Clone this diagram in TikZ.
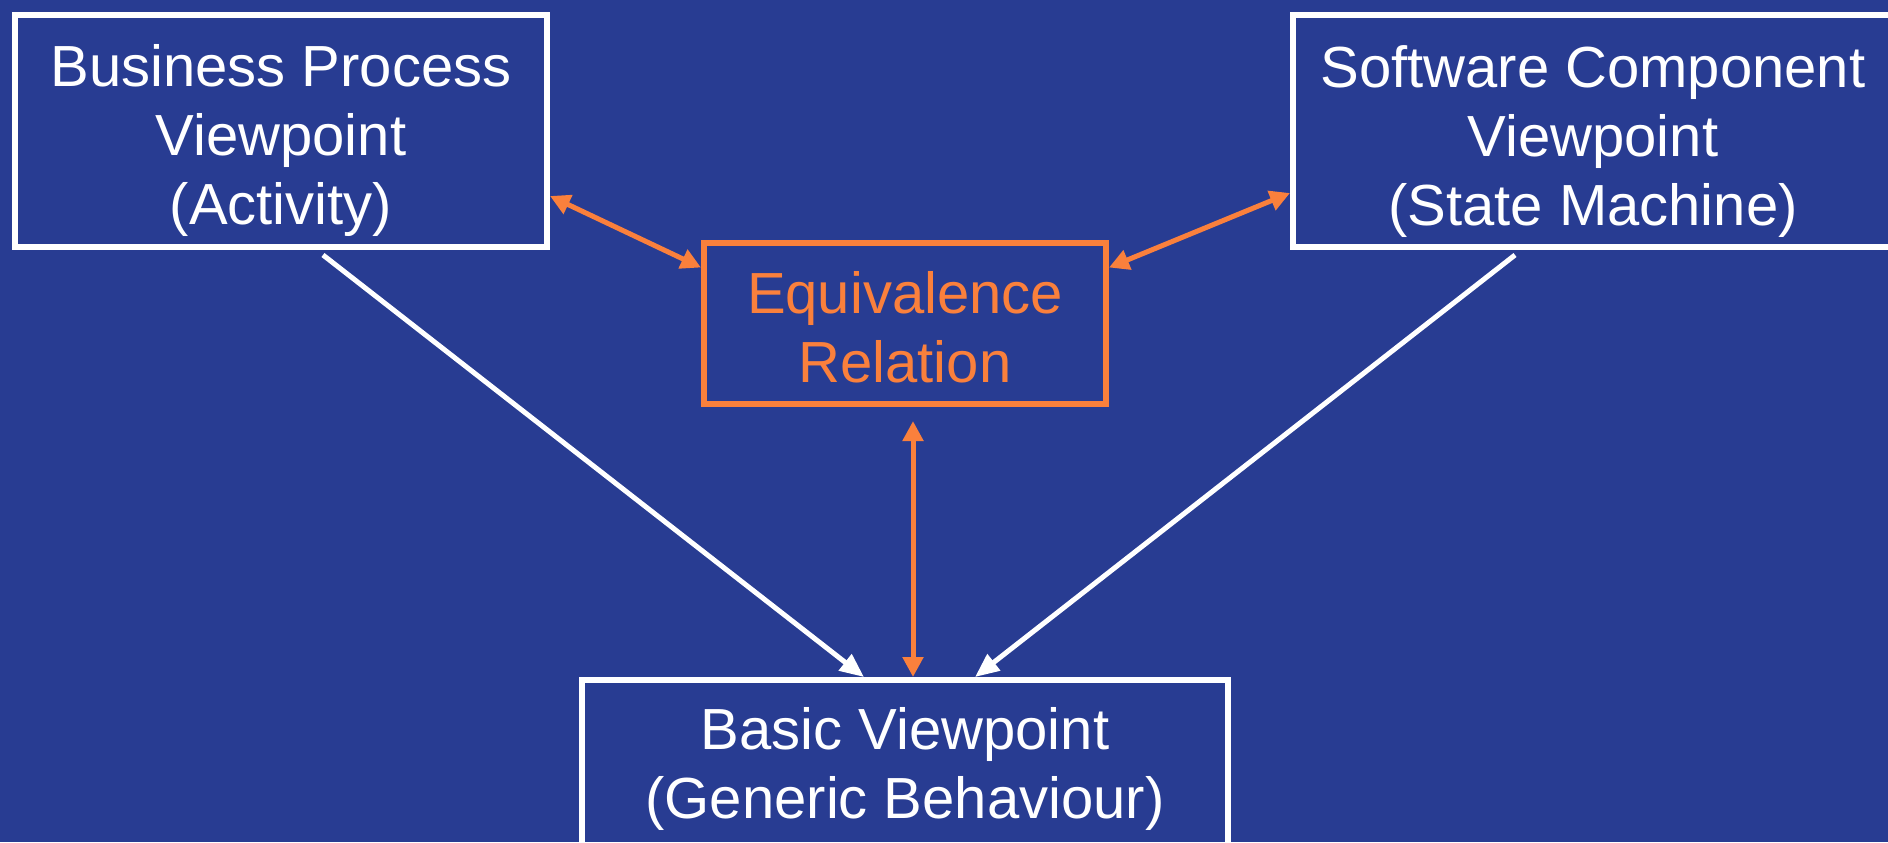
\documentclass[tikz,border=0pt]{standalone}
\usepackage{fontspec}
\setmainfont{Liberation Sans}
\usepackage{tikz}
\usetikzlibrary{positioning, arrows.meta}
\definecolor{slideblue}{RGB}{40,60,146}
\definecolor{relorange}{RGB}{250,128,60}
\newcommand{\toppad}[1]{\rule{0pt}{#1}}
\tikzstyle{viewpoint} = [rectangle, minimum width=266pt, minimum height=116pt, inner sep=0pt, align=center, draw=white, line width=3pt, text=white]
\tikzstyle{relation} = [rectangle, minimum width=201pt, minimum height=80.5pt, inner sep=0pt, align=center, draw=relorange, line width=3pt, text=relorange]
\tikzstyle{arrow} = [line width=2.5pt, white, -{Triangle[length=12pt,width=10pt]}]
\tikzstyle{twoway} = [line width=2.5pt, relorange, {Triangle[length=10pt,width=10pt]}-{Triangle[length=10pt,width=10pt]}]

\begin{document}
\begin{tikzpicture}[x=0.5pt, y=-0.5pt, node distance=220.75pt, font=\fontsize{29}{34.5}\selectfont]
\useasboundingbox (0,0) rectangle (1888,842);
\fill [slideblue] (0,0) rectangle (1888,842);

\node (equiv) [relation] at (905,323.5) {\toppad{24.5pt}Equivalence\\Relation};
\node (business) [viewpoint] at (281,131) {\toppad{31pt}Business Process\\Viewpoint\\(Activity)};
\node (software) [viewpoint, minimum width=300pt] at (1593,131) {\toppad{31pt}Software Component\\Viewpoint\\(State Machine)};
\node (basic) [viewpoint, below of=equiv, minimum width=323pt, minimum height=85pt] {\toppad{25pt}Basic Viewpoint\\(Generic Behaviour)};

\draw [arrow] ([xshift=21pt, yshift=-2.5pt]business.south) -- ([xshift=-20.5pt]basic.north);
\draw [arrow] ([xshift=-39pt, yshift=-2.5pt]software.south) -- ([xshift=35pt]basic.north);
\draw [twoway] ([yshift=-32.5pt]business.east) -- ([yshift=28pt]equiv.west);
\draw [twoway] ([yshift=28pt]equiv.east) -- ([yshift=-31pt]software.west);
\draw [twoway, shorten <=7pt] ([xshift=4pt]equiv.south) -- ([xshift=4pt]basic.north);
\end{tikzpicture}
\end{document}
